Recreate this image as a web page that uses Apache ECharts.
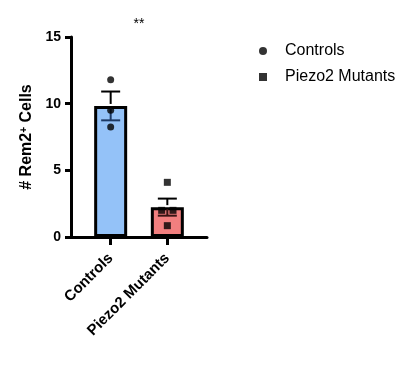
<!DOCTYPE html>
<html>
<head>
<meta charset="utf-8">
<script src="https://cdn.jsdelivr.net/npm/echarts@6/dist/echarts.min.js"></script>
<style>
  html, body { margin: 0; padding: 0; background: #fff; }
  #chart { width: 414px; height: 377px; }
</style>
</head>
<body>
<div id="chart"></div>
<script>
const FONT = '"Liberation Sans", Arial, sans-serif'

// groups and their bar positions on the x value axis
const groups = ['Controls', 'Piezo2 Mutants']
const groupX = [1, 2]
const barColors = ['#94c2f8', '#f27f7f']
const errLowColors = ['#1d3a66', '#3a1414']

// mean and SEM
const means = [9.83, 2.24]
const sems = [1.08, 0.64]

// individual points (x jitter inside each group)
const controlsY = [11.8, 9.5, 8.25]
const controlsJitter = [0, 0, 0]
const mutantsY = [4.1, 2.0, 2.0, 0.85]
const mutantsJitter = [0, -0.1, 0.1, 0]

// significance mark between groups
const sigText = '**'
const sigPos = [1.5, 16.0]

const yTicks = [0, 5, 10, 15]

const chart = echarts.init(document.getElementById('chart'))

const option = {
  animation: false,
  textStyle: { fontFamily: FONT },
  grid: { left: 71, top: 37, right: 207, bottom: 140, containLabel: false },
  legend: {
    orient: 'vertical',
    left: 254,
    top: 38,
    itemWidth: 8,
    itemHeight: 8,
    itemGap: 10,
    textStyle: { fontFamily: FONT, fontSize: 16, color: '#000', padding: [0, 0, 0, 13], lineHeight: 16 },
    data: [
      { name: 'Controls', icon: 'circle' },
      { name: 'Piezo2 Mutants', icon: 'rect' }
    ]
  },
  xAxis: {
    type: 'value',
    min: 0.3,
    max: 2.7,
    splitLine: { show: false },
    axisLine: { show: true, lineStyle: { color: '#000', width: 3 } },
    axisTick: { show: true, customValues: groupX, length: 8, lineStyle: { color: '#000', width: 3 } },
    axisLabel: {
      show: true,
      customValues: groupX,
      rotate: 45,
      margin: 19,
      fontFamily: FONT,
      fontSize: 15,
      fontWeight: 'bold',
      color: '#000',
      formatter: (v) => groups[groupX.indexOf(v)] || ''
    }
  },
  yAxis: {
    type: 'value',
    min: 0,
    max: 15,
    interval: 5,
    splitLine: { show: false },
    axisLine: { show: true, lineStyle: { color: '#000', width: 3 } },
    axisTick: { show: true, length: 6, lineStyle: { color: '#000', width: 3 } },
    axisLabel: {
      margin: 10,
      fontFamily: FONT,
      fontSize: 14,
      fontWeight: 'bold',
      color: '#000',
      customValues: yTicks
    },
    name: '# Rem2{sup|+} Cells',
    nameLocation: 'middle',
    nameGap: 36,
    nameTextStyle: {
      fontFamily: FONT,
      fontSize: 16,
      fontWeight: 'bold',
      color: '#000',
      rich: {
        sup: { fontSize: 10, fontWeight: 'bold', color: '#000', verticalAlign: 'top', padding: [0, 0, 6, 0] }
      }
    }
  },
  series: [
    {
      type: 'bar',
      barWidth: 33,
      z: 2,
      data: groupX.map((x, i) => ({
        value: [x, means[i]],
        itemStyle: { color: barColors[i], borderColor: '#000', borderWidth: 3 }
      }))
    },
    {
      type: 'custom',
      z: 3,
      clip: false,
      data: groupX.map((x, i) => [x, means[i], sems[i], i]),
      renderItem: (params, api) => {
        const x = api.value(0)
        const m = api.value(1)
        const s = api.value(2)
        const i = api.value(3)
        const top = api.coord([x, m + s])
        const mid = api.coord([x, m])
        const bot = api.coord([x, m - s])
        const half = 9.5
        const topStyle = { stroke: '#000', lineWidth: 2 }
        const lowStyle = { stroke: errLowColors[i], lineWidth: 2 }
        return {
          type: 'group',
          children: [
            { type: 'line', shape: { x1: top[0], y1: top[1], x2: mid[0], y2: mid[1] - 2 }, style: topStyle },
            { type: 'line', shape: { x1: top[0] - half, y1: top[1], x2: top[0] + half, y2: top[1] }, style: topStyle },
            { type: 'line', shape: { x1: mid[0], y1: mid[1] + 2, x2: bot[0], y2: bot[1] }, style: lowStyle },
            { type: 'line', shape: { x1: bot[0] - half, y1: bot[1], x2: bot[0] + half, y2: bot[1] }, style: lowStyle }
          ]
        }
      }
    },
    {
      name: 'Controls',
      type: 'scatter',
      symbol: 'circle',
      symbolSize: 7,
      z: 4,
      itemStyle: { color: '#000' },
      data: controlsY.map((y, i) => [groupX[0] + controlsJitter[i], y])
    },
    {
      name: 'Piezo2 Mutants',
      type: 'scatter',
      symbol: 'rect',
      symbolSize: 7,
      z: 4,
      itemStyle: { color: '#000' },
      data: mutantsY.map((y, i) => [groupX[1] + mutantsJitter[i], y])
    },
    {
      type: 'custom',
      z: 5,
      clip: false,
      data: [sigPos],
      renderItem: (params, api) => {
        const p = api.coord([api.value(0), api.value(1)])
        return {
          type: 'text',
          x: p[0],
          y: p[1],
          style: { text: sigText, fontFamily: FONT, fontSize: 14, fill: '#000', align: 'center', verticalAlign: 'middle' }
        }
      }
    }
  ]
}

chart.setOption(option)
</script>
</body>
</html>
